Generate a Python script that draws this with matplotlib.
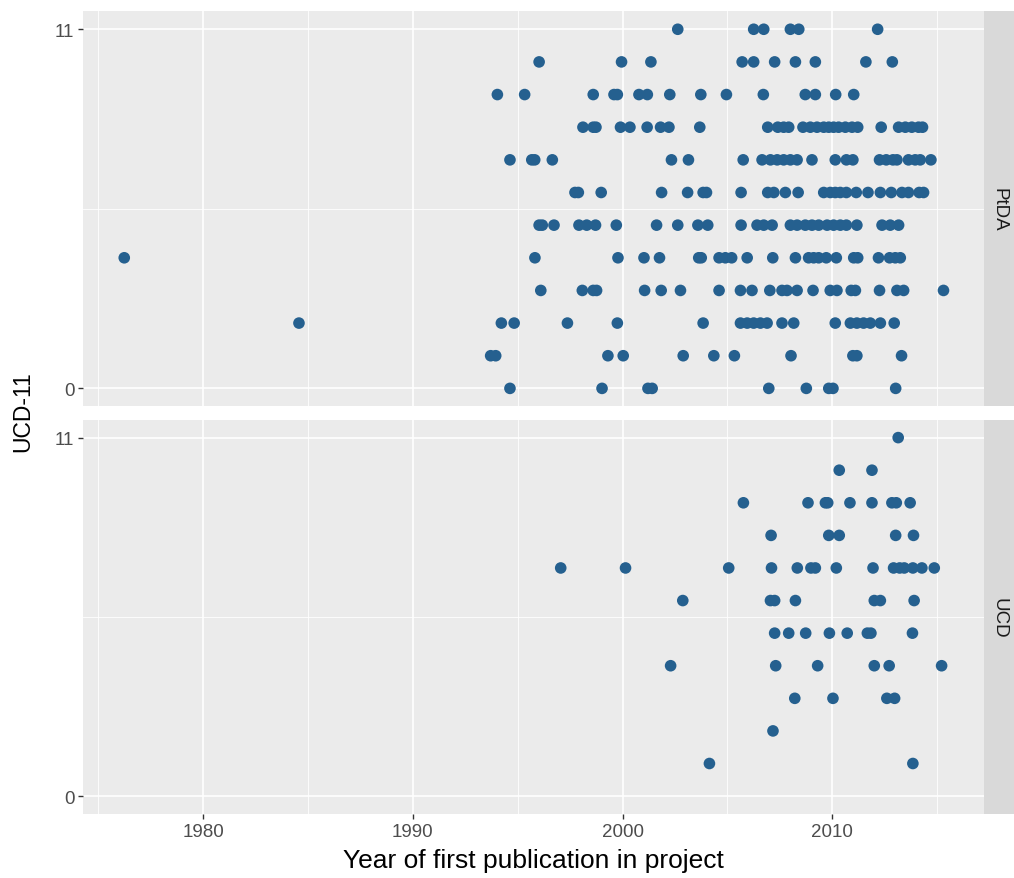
import matplotlib
matplotlib.use("Agg")
import matplotlib.pyplot as plt
from matplotlib.ticker import FixedLocator

plt.rcParams['font.family'] = ['Liberation Sans', 'DejaVu Sans']

# UCD-11 score rows, top to bottom
scores = [11, 10, 9, 8, 7, 6, 5, 4, 3, 2, 1, 0]

# PtDA panel: year of first publication for each score row
ptda_years = [
    [2002.63, 2006.25, 2006.73, 2008.0, 2008.4, 2012.16],
    [1996.02, 1999.95, 2001.35, 2005.70, 2006.25, 2007.25, 2008.24, 2009.19, 2011.6, 2012.86],
    [1994.03, 1995.33, 1998.6, 1999.59, 1999.75, 2000.78, 2001.18, 2002.25, 2003.73, 2004.95,
     2006.71, 2008.71, 2009.19, 2010.16, 2011.02],
    [1998.11, 1998.6, 1998.73, 1999.9, 2000.35, 2001.17, 2001.81, 2002.21, 2003.68, 2006.92,
     2007.40, 2007.68, 2007.92, 2008.6, 2008.95, 2009.27, 2009.59, 2009.83, 2010.06, 2010.3,
     2010.62, 2010.94, 2011.21, 2012.33, 2013.16, 2013.48, 2013.79, 2014.11, 2014.3],
    [1994.63, 1995.67, 1995.81, 1996.65, 2002.33, 2003.14, 2005.75, 2006.65, 2007.05, 2007.37,
     2007.68, 2008.0, 2008.32, 2009.03, 2010.14, 2010.67, 2010.98, 2012.25, 2012.57, 2012.89,
     2013.08, 2013.63, 2013.95, 2014.19, 2014.70],
    [1997.73, 1997.89, 1998.98, 2001.86, 2003.1, 2003.84, 2004.0, 2005.65, 2006.92, 2007.21,
     2007.76, 2008.37, 2009.59, 2009.90, 2010.14, 2010.38, 2010.67, 2011.14, 2011.7, 2012.29,
     2012.81, 2013.32, 2013.63, 2014.14, 2014.35],
    [1996.02, 1996.17, 1996.73, 1997.92, 1998.29, 1998.71, 1999.70, 2001.62, 2002.63, 2003.59,
     2004.06, 2005.65, 2006.41, 2006.73, 2007.13, 2008.0, 2008.32, 2008.71, 2009.03, 2009.35,
     2009.75, 2010.06, 2010.38, 2010.67, 2011.17, 2012.37, 2012.76, 2013.16],
    [1976.24, 1995.82, 1999.78, 2001.02, 2001.76, 2003.63, 2003.75, 2004.6, 2004.9, 2005.2,
     2005.94, 2007.16, 2008.24, 2008.87, 2009.11, 2009.35, 2009.71, 2010.19, 2011.02, 2011.21,
     2012.2, 2012.73, 2013.0, 2013.24],
    [1996.1, 1998.08, 1998.6, 1998.76, 2001.05, 2001.84, 2002.76, 2004.6, 2005.62, 2006.17,
     2007.02, 2007.6, 2007.84, 2008.32, 2009.08, 2009.9, 2010.22, 2010.9, 2011.1, 2012.25,
     2013.08, 2013.4, 2015.3],
    [1984.57, 1994.22, 1994.83, 1997.37, 1999.75, 2003.84, 2005.62, 2005.94, 2006.25, 2006.57,
     2006.89, 2007.6, 2008.16, 2010.14, 2010.86, 2011.17, 2011.49, 2011.81, 2012.29, 2012.95],
    [1993.71, 1993.95, 1999.30, 2000.03, 2002.89, 2004.35, 2005.33, 2008.03, 2010.98, 2011.17, 2013.3],
    [1994.63, 1999.02, 2001.21, 2001.41, 2006.97, 2008.76, 2009.83, 2010.03, 2013.02],
]

# UCD panel
ucd_years = [
    [2013.14],
    [2010.33, 2011.89],
    [2005.76, 2008.84, 2009.67, 2009.78, 2010.84, 2011.89, 2012.84, 2013.05, 2013.71],
    [2007.08, 2009.83, 2010.33, 2013.02, 2013.87],
    [1997.05, 2000.14, 2005.06, 2007.1, 2008.33, 2008.98, 2009.19, 2010.19, 2011.94, 2012.92,
     2013.21, 2013.43, 2013.84, 2014.27, 2014.86],
    [2002.87, 2007.05, 2007.25, 2008.24, 2012.0, 2012.29, 2013.9],
    [2007.25, 2007.92, 2008.73, 2009.86, 2010.71, 2011.67, 2011.84, 2013.82],
    [2002.29, 2007.3, 2009.3, 2012.0, 2012.71, 2015.21],
    [2008.21, 2010.03, 2012.6, 2012.97],
    [2007.17],
    [2004.14, 2013.84],
    [],
]

panels = ['PtDA', 'UCD']
x_ticks = [1980, 1990, 2000, 2010]
y_ticks = [0, 11]

point_col = '#25608F'
panel_bg = '#EBEBEB'
strip_bg = '#D9D9D9'
tick_col = '#4D4D4D'

fig = plt.figure(figsize=(10.14, 8.79), dpi=100)

left, width = 0.0822, 0.8886
boxes = [(0.5366, 0.4494), (0.0728, 0.4486)]
axes = []
for (bottom, height), name, rows in zip(boxes, panels, [ptda_years, ucd_years]):
    ax = fig.add_axes([left, bottom, width, height])
    ax.set_facecolor(panel_bg)
    xs, ys = [], []
    for s, yrs in zip(scores, rows):
        xs += yrs
        ys += [s] * len(yrs)
    ax.scatter(xs, ys, s=70, color=point_col, edgecolors='none', zorder=3)
    ax.set_xlim(1974.29, 2017.25)
    ax.set_ylim(-0.55, 11.55)
    ax.set_xticks(x_ticks)
    ax.set_yticks(y_ticks)
    ax.xaxis.set_minor_locator(FixedLocator([1975, 1985, 1995, 2005, 2015]))
    ax.yaxis.set_minor_locator(FixedLocator([5.5]))
    ax.grid(which='major', color='white', linewidth=1.2, zorder=0)
    ax.grid(which='minor', color='white', linewidth=0.6, zorder=0)
    ax.set_axisbelow(True)
    for sp in ax.spines.values():
        sp.set_visible(False)
    ax.tick_params(which='major', length=3.5, width=1.0, color='#333333',
                   labelsize=13.5, labelcolor=tick_col, pad=3)
    ax.tick_params(which='minor', length=0)
    # facet strip on the right
    sax = fig.add_axes([left + width, bottom, 0.0293, height])
    sax.set_facecolor(strip_bg)
    sax.set_xticks([])
    sax.set_yticks([])
    for sp in sax.spines.values():
        sp.set_visible(False)
    sax.text(0.5, 0.5, name, rotation=-90, ha='center', va='center',
             fontsize=13.5, color='#1A1A1A', transform=sax.transAxes)
    axes.append(ax)

axes[0].tick_params(axis='x', which='both', bottom=False, labelbottom=False)

axes[1].set_xlabel('Year of first publication in project', fontsize=19, labelpad=6)
fig.text(0.022, 0.5366 - 0.005, 'UCD-11', rotation=90, ha='center', va='center', fontsize=16.5)

fig.savefig('out.png', dpi=100)
